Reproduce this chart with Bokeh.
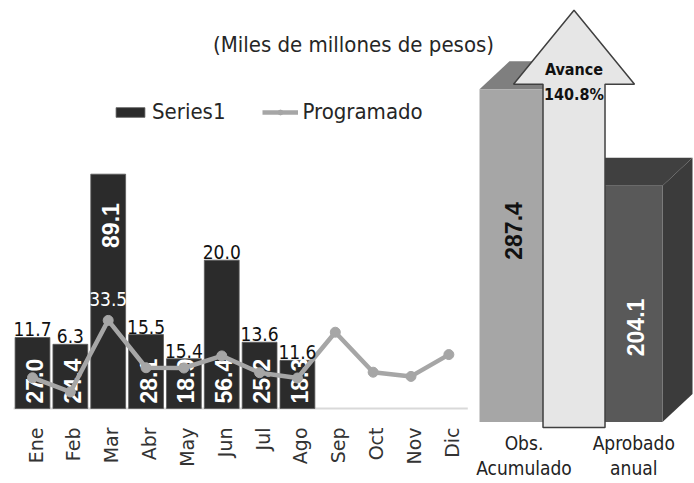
import numpy as np
from bokeh.plotting import figure
from bokeh.models import Range1d, Legend, LegendItem, Label
from bokeh.core.properties import value
from bokeh.embed import file_html
from bokeh.resources import INLINE

# ---------------- data ----------------
months = ["Ene", "Feb", "Mar", "Abr", "May", "Jun", "Jul", "Ago", "Sep", "Oct", "Nov", "Dic"]
series1 = [27.0, 24.4, 89.1, 28.1, 18.9, 56.4, 25.2, 18.3]
programado = [11.7, 6.3, 33.5, 15.5, 15.4, 20.0, 13.6, 11.6, 29.0, 13.8, 12.2, 20.5]
summary_labels = ["Obs.\nAcumulado", "Aprobado\nanual"]
summary_values = [287.4, 204.1]
title_text = "(Miles de millones de pesos)"
legend_labels = ["Series1", "Programado"]

# ---------------- layout / style ----------------
W, H = 694, 483
PX = 37.85          # px per category
PY = 2.63           # px per unit (monthly chart)
PR = 1.158          # px per unit (summary chart)
first_x = 32        # px of first category centre
base_main = 408     # baseline, px from top of figure
base_right = 421.5

NARROW = "DejaVu Sans Condensed, Roboto"
BAR_COLOR = "#2b2b2b"
LINE_COLOR = "#a6a6a6"

x0 = -first_x / PX
p = figure(width=W, height=H, output_backend="svg", toolbar_location=None,
           x_range=Range1d(x0, x0 + W / PX),
           y_range=Range1d(-(H - base_main) / PY, base_main / PY),
           x_axis_location=None, y_axis_location=None,
           min_border=0, outline_line_color=None,
           background_fill_color="white", border_fill_color="white")
p.extra_y_ranges = {"r": Range1d(-(H - base_right) / PR, base_right / PR)}
p.xgrid.grid_line_color = None
p.ygrid.grid_line_color = None

n_bar = len(series1)
xb = np.arange(n_bar)
xm = np.arange(len(months))
ser = np.array(series1)
prog = np.array(programado)

# axis line of monthly chart
p.segment(x0=[-0.5], y0=[0], x1=[len(months) - 0.5], y1=[0],
          line_color="#d9d9d9", line_width=2)

# bars
bars = p.vbar(x=xb, top=ser, bottom=0, width=0.92, fill_color=BAR_COLOR,
              line_color="#5a5a5a", line_width=0.8)

# rotated labels inside bars
imax = int(np.argmax(ser))
mask = np.arange(n_bar) != imax
p.text(x=xb[mask], y=np.zeros(mask.sum()), text=[f"{v:.1f}" for v in ser[mask]],
       angle=np.pi / 2, text_align="left", text_baseline="middle",
       x_offset=2, y_offset=-5,
       text_color="white", text_font=value("Liberation Sans"),
       text_font_style="bold", text_font_size="23px")
p.text(x=[xb[imax]], y=[ser[imax]], text=[f"{ser[imax]:.1f}"],
       angle=np.pi / 2, text_align="right", text_baseline="middle",
       x_offset=2, y_offset=29,
       text_color="white", text_font=value("Liberation Sans"),
       text_font_style="bold", text_font_size="23px")

# Programado line
line_r = p.line(x=xm, y=prog, line_color=LINE_COLOR, line_width=4.5)
pts_r = p.scatter(x=xm, y=prog, size=10, fill_color=LINE_COLOR, line_color=LINE_COLOR)

# labels of programado (first months)
lab = prog[:n_bar]
p.text(x=xb[mask], y=ser[mask], text=[f"{v:.1f}" for v in lab[mask]],
       text_align="center", text_baseline="alphabetic", y_offset=-8,
       text_color="#111111", text_font=value(NARROW), text_font_size="19px")
p.text(x=[xb[imax]], y=[lab[imax]], text=[f"{lab[imax]:.1f}"],
       text_align="center", text_baseline="alphabetic", y_offset=-21,
       text_color="white", text_font=value(NARROW), text_font_size="19px")

# month labels
p.text(x=xm, y=np.zeros(len(months)), text=months, angle=np.pi / 2,
       text_align="right", text_baseline="middle", x_offset=3, y_offset=19,
       text_color="#333333", text_font=value("DejaVu Sans"), text_font_size="19px")

# ---------------- summary (3D) bars ----------------
bw = 2.35
centers = np.array([12.985, 15.47])
vals = np.array(summary_values)
dx = 30 / PX
dy = 28 / PR
front = ["#a6a6a6", "#595959"]
top_c = ["#7f7f7f", "#404040"]
side_c = ["#8c8c8c", "#3b3b3b"]
for c, v, fc, tc, sc in zip(centers, vals, front, top_c, side_c):
    l, r = c - bw / 2, c + bw / 2
    p.patch(x=[r, r + dx, r + dx, r], y=[0, dy, v + dy, v], fill_color=sc,
            line_color=None, y_range_name="r")
    p.patch(x=[l, r, r + dx, l + dx], y=[v, v, v + dy, v + dy], fill_color=tc,
            line_color=None, y_range_name="r")
    p.quad(left=[l], right=[r], bottom=[0], top=[v], fill_color=fc,
           line_color=None, y_range_name="r")

# arrow (Avance)
ac = centers.mean() + 3 / PX
sh = 31 / PX
hh = 60.5 / PX
yb = -5.5 / PR
hb = vals[0] + 5 / PR
apex = vals[0] + 79 / PR
p.patch(x=[ac - sh, ac + sh, ac + sh, ac + hh, ac, ac - hh, ac - sh],
        y=[yb, yb, hb, hb, apex, hb, hb],
        fill_color="#e6e6e6", line_color="#404040", line_width=1.5, y_range_name="r")
avance = vals[0] / vals[1] * 100
p.text(x=[ac, ac], y=[vals[0], vals[0]], text=["Avance", f"{avance:.1f}%"],
       y_offset=[-20, 5], text_align="center", text_baseline="alphabetic",
       text_font=value(NARROW), text_font_style="bold", text_font_size="16px",
       text_color="#111111", y_range_name="r")

# value labels of summary bars (centered on visible part)
vis_x = [(centers[0] - bw / 2 + ac - sh) / 2, (ac + sh + centers[1] + bw / 2) / 2]
p.text(x=vis_x, y=vals, text=[f"{v:.1f}" for v in vals], angle=np.pi / 2,
       text_align="right", text_baseline="middle", x_offset=2, y_offset=113,
       text_color=["#111111", "white"], text_font=value("Liberation Sans"),
       text_font_style="bold", text_font_size="23px", y_range_name="r")

# category labels of summary bars
cat_x = [centers[0], vis_x[1]]
line1 = [s.split("\n")[0] for s in summary_labels]
line2 = [s.split("\n")[1] for s in summary_labels]
p.text(x=cat_x, y=[0, 0], text=line1, y_offset=21, text_align="center",
       text_baseline="alphabetic", text_font=value(NARROW), text_font_size="19px",
       text_color="#222222", y_range_name="r")
p.text(x=cat_x, y=[0, 0], text=line2, y_offset=46, text_align="center",
       text_baseline="alphabetic", text_font=value(NARROW), text_font_size="19px",
       text_color="#222222", y_range_name="r")

# title
p.add_layout(Label(x=353, y=H - 44, x_units="screen", y_units="screen", text=title_text,
                   text_align="center", text_baseline="alphabetic",
                   text_font=NARROW, text_font_size="22px", text_color="#262626"))

# legend
legend = Legend(items=[LegendItem(label=legend_labels[0], renderers=[bars]),
                       LegendItem(label=legend_labels[1], renderers=[line_r, pts_r])],
                location=(112, 359), orientation="horizontal",
                background_fill_alpha=0, border_line_alpha=0, padding=0, margin=0,
                spacing=37, glyph_width=36, glyph_height=12, label_standoff=4,
                label_text_font=NARROW, label_text_font_size="22px",
                label_text_color="#262626")
p.add_layout(legend)

open("out.html", "w").write(file_html(p, INLINE))
